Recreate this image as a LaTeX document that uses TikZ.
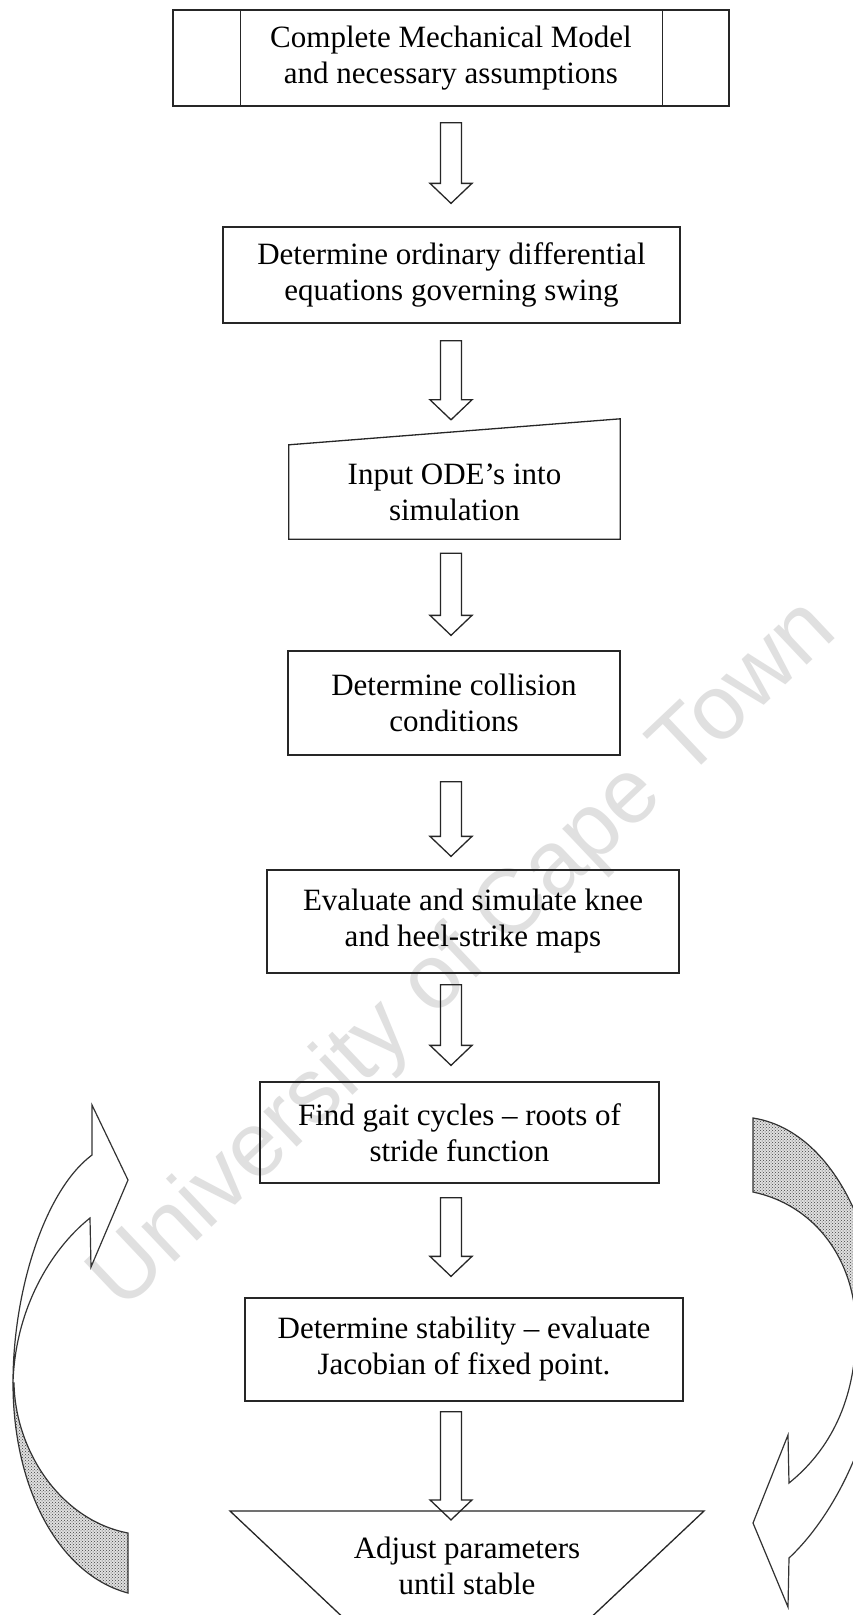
\documentclass[tikz,border=0pt]{standalone}
\usepackage{fontspec}
\setmainfont{Liberation Serif}
\newfontfamily\wmfont{Liberation Sans}
\usetikzlibrary{calc,patterns}
\tikzset{
  boxline/.style={draw=black!85, line width=1.3pt},
  box/.style={boxline, inner sep=0pt, align=center, font=\fontsize{31}{36}\selectfont},
  txt/.style={inner sep=0pt, align=center, font=\fontsize{31}{36}\selectfont},
  blk/.style={draw=black!85, line width=1.3pt, line join=miter},
  ribbon/.style={draw=black!80, line width=1.2pt, line join=miter},
  shade/.style={ribbon, preaction={fill=black!12}, pattern=crosshatch dots, pattern color=black!75},
  wm/.style={text=black!12, font=\wmfont\fontsize{91.5}{100}\selectfont, rotate=43.4, inner sep=0pt}
}
\newcommand\blockarr[4]{%
  \draw[blk] ($(#1.south -| axis)+(-10.5,#2)$) -- ($(#3.north -| axis)+(-10.5,-#4-20)$)
    -- ++(-10.5,0) -- ($(#3.north -| axis)+(0,-#4)$) -- ($(#3.north -| axis)+(21,-#4-20)$)
    -- ++(-10.5,0) -- ($(#1.south -| axis)+(10.5,#2)$) -- cycle;}
\begin{document}
\begin{tikzpicture}[x=1pt,y=-1pt]
\useasboundingbox (0,0) rectangle (853,1615);
\clip (0,0) rectangle (853,1615);
\fill[white] (0,0) rectangle (853,1615);
\node[wm] (wm) at (465,956) {University of Cape Town};
\coordinate (axis) at (451,0);
% boxes
\node[box, minimum width=556pt, minimum height=96pt] (b1) at (451,58)
  {Complete Mechanical Model\\and necessary assumptions};
\draw[boxline] ($(b1.north west)+(68,0)$) -- ($(b1.south west)+(68,0)$);
\draw[boxline] ($(b1.north east)+(-67,0)$) -- ($(b1.south east)+(-67,0)$);
\node[box, minimum width=457pt, minimum height=96pt] (b2) at (451.5,275)
  {Determine ordinary differential\\equations governing swing};
\node[txt, minimum width=331pt, minimum height=94pt] (b3) at (454.5,492)
  {Input ODE's into\\simulation};
\draw[boxline] (b3.south west) -- (b3.north west) -- ($(b3.north east)+(0,-26)$) -- (b3.south east) -- cycle;
\node[box, minimum width=332pt, minimum height=104pt] (b4) at (454,703)
  {Determine collision\\conditions};
\node[box, minimum width=412pt, minimum height=103pt] (b5) at (473,921.5)
  {Evaluate and simulate knee\\and heel-strike maps};
\node[box, minimum width=399pt, minimum height=101pt] (b6) at (459.5,1132.5)
  {Find gait cycles -- roots of\\stride function};
\node[box, minimum width=438pt, minimum height=103pt] (b7) at (464,1349.5)
  {Determine stability -- evaluate\\Jacobian of fixed point.};
\node[txt] (b8) at (467,1566) {Adjust parameters\\until stable};
\draw[boxline] ($(b8.center)+(-237,-55)$) -- ($(b8.center)+(237,-55)$) -- ($(b8.center)+(99,75)$) -- ($(b8.center)+(-99,75)$) -- cycle;
% block arrows
\blockarr{b1}{16}{b2}{23}
\blockarr{b2}{17}{b3}{25}
\blockarr{b3}{14}{b4}{15}
\blockarr{b4}{26}{b5}{13}
\blockarr{b5}{11}{b6}{16}
\blockarr{b6}{14}{b7}{21}
\blockarr{b7}{10}{b8}{17}
% left curved arrow
\draw[shade] (14,1383) .. controls (15,1450) and (60,1520) .. (128,1533) -- (128,1593)
  .. controls (60,1575) and (13,1490) .. (13,1383) -- cycle;
\draw[ribbon, fill=white] (92,1155) .. controls (45,1190) and (13,1290) .. (13,1383)
  .. controls (15,1310) and (50,1250) .. (90,1218) -- (91,1267) -- (128,1180) -- (92,1105) -- cycle;
% right curved arrow
\draw[shade] (753,1118) .. controls (830,1130) and (880,1230) .. (880,1340) -- (856,1330)
  .. controls (856,1260) and (815,1205) .. (753,1192) -- cycle;
\draw[ribbon, fill=white] (880,1340) .. controls (878,1430) and (835,1515) .. (789,1558)
  -- (788,1607) -- (753,1523) -- (788,1435) -- (789,1483)
  .. controls (830,1450) and (856,1400) .. (856,1330) -- cycle;
\end{tikzpicture}
\end{document}
